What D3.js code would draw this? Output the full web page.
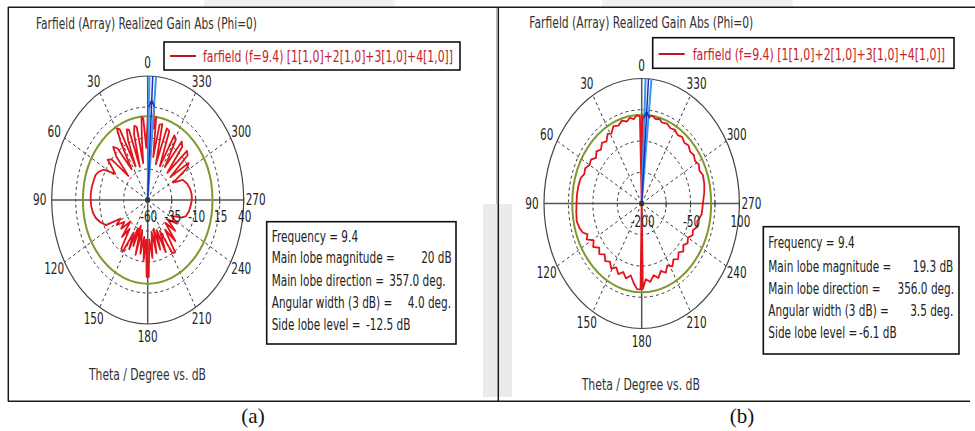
<!DOCTYPE html>
<html><head><meta charset="utf-8">
<script src="https://cdn.jsdelivr.net/npm/d3@7"></script>
<style>body{margin:0;background:#fff}svg{display:block}</style>
</head><body>
<svg id="chart" width="975" height="431"></svg>
<script>
// ---------- shared texts ----------
const angleTicks = [0, 30, 60, 90, 120, 150, 180, 210, 240, 270, 300, 330];
const spokeAngles = [30, 60, 120, 150, 210, 240, 300, 330];
const titleText = "Farfield (Array) Realized Gain Abs (Phi=0)";
const legendText = "farfield (f=9.4) [1[1,0]+2[1,0]+3[1,0]+4[1,0]]";
const axisTitle = "Theta / Degree vs. dB";
const statLabels = ["Frequency = 9.4", "Main lobe magnitude =", "Main lobe direction =", "Angular width (3 dB) =", "Side lobe level ="];

// ---------- panel (a) ----------
const aTheta = [0, 2, 4, 5.5, 7, 9, 11, 13, 15, 17, 19, 21, 23, 25, 27, 29, 31, 34, 37, 40, 43, 46, 49, 52, 55, 58,
  62, 66, 70, 75, 80, 85, 90, 95, 100, 105, 110, 115,
  118, 122, 126, 130, 134, 138, 141, 145, 148, 151, 154, 156, 158, 161, 164, 167, 170, 173, 175, 177, 179,
  181, 183, 186, 189, 192, 195, 198, 201, 204, 207, 211, 214, 217, 221, 225, 229, 233, 238, 243, 248,
  252, 258, 264, 270, 276, 282, 288, 294, 298,
  302, 305, 308, 311, 314, 317, 320, 323, 326, 329, 332, 335, 338, 341, 343.5, 346, 348.5, 350.5, 352.5, 354, 355, 357, 359, 360];
const aGain = [6, -18, 6, 7.3, -10, -30, 0, 1.5, -5, -32, 0, 1, -8, -30, 4, 6, -5, -30, -8, -4, -12, -32, -10, -7, -15, -20,
  -8, -4, -2, -1.5, -0.8, -0.5, -0.6, -1, -2, -4, -7.5, -12,
  -28, -22, -30, -24, -35, -20, -30, -12, -11, -30, -16, -35, -20, -38, -14, -35, -16, -30, -11, -28, 2,
  2, -28, -13, -34, -16, -36, -18, -34, -14, -32, -10, -9, -30, -16, -34, -22, -34, -24, -32, -22,
  -18, -16, -15, -14, -14, -15, -17, -20, -30,
  -12, -8, -30, -5, -3, -30, -4, -1, -28, -3, -1, -30, 0, 1, -30, 3, 2, -25, 7.3, -2, 17, 20, 17, 6];
const aRadialTicks = [-60, -35, -10, 15, 40];
const aRadialShown = ["-60", "-35", "-10", "15", "40"];
const aStatValues = ["20 dB", "357.0 deg.", "4.0 deg.", "-12.5 dB"];
const aMainDir = 357, aWidth = 4, aMainMag = 20, aSideLobe = -12.5;

// ---------- panel (b) ----------
const bTheta = [0, 1.5, 4, 7, 10, 13, 17, 21, 25, 29, 32, 36, 40, 44, 48, 52, 56, 60, 64, 68, 72, 78, 84, 90, 96, 102, 107, 111,
  114, 117, 121, 125, 129, 133, 137, 141, 145, 149, 153, 157, 161, 165, 169, 173, 176, 179, 180,
  181, 184, 188, 192, 196, 200, 204, 208, 212, 216, 220, 224, 228, 232, 236, 240, 244, 248, 252, 256, 262,
  270, 278, 284, 290, 294, 298, 302, 306, 310, 314, 318, 322, 326, 330, 334, 338, 342, 345, 348, 351, 353,
  354.5, 356, 357.5, 359, 360];
const bGain = [-200, 9, 12, 4, 9, 2, 8, 0, 5, -8, -3, -16, -10, -20, -13, -22, -12, -15, -7, -10, -3, -1, 0, 0, 2, 4, 0, -6,
  -18, -10, -28, -18, -32, -22, -33, -22, -30, -18, -28, -16, -26, -14, -24, -6, 6, 6, -200,
  5, -18, -10, -24, -14, -28, -18, -32, -22, -34, -26, -37, -28, -38, -30, -36, -26, -30, -20, -24, -14,
  -12, -6, -2, 0, -6, -1, -7, -2, -6, 0, -4, 2, -2, 4, 1, 7, 4, 10, 7, 13, 11,
  17, 19.3, 17, 10, -200];
const bRadialTicks = [-200, -125, -50, 25, 100];
const bRadialShown = ["-200", "", "-50", "", "100"];
const bStatValues = ["19.3 dB", "356.0 deg.", "3.5 deg.", "-6.1 dB"];
const bMainDir = 356, bWidth = 3.5, bMainMag = 19.3, bSideLobe = -6.1;

// ---------- drawing ----------
const svg = d3.select("#chart");
const FONT = "'DejaVu Sans', Verdana, sans-serif";
const SX = 0.7;

function T(g, x, y, s, o = {}) {
  const sx = o.sx || SX;
  const t = g.append("text")
    .attr("transform", `translate(${x},${y}) scale(${sx},1)`)
    .attr("text-anchor", o.anchor || "start")
    .attr("font-size", o.size || 15)
    .attr("font-family", o.family || FONT)
    .attr("fill", o.fill || "#2a2a2a")
    .text(s);
  if (o.dy) t.attr("dy", o.dy);
  if (o.len) t.attr("textLength", o.len / sx).attr("lengthAdjust", "spacingAndGlyphs");
  return t;
}

// page frame / background bits
svg.append("rect").attr("x", 204).attr("y", 0).attr("width", 191).attr("height", 7).attr("fill", "#f1f1f1");
svg.append("rect").attr("x", 602).attr("y", 0).attr("width", 191).attr("height", 7).attr("fill", "#f1f1f1");
svg.append("rect").attr("x", 483).attr("y", 204).attr("width", 29).attr("height", 193).attr("fill", "#ebebeb");
svg.append("line").attr("x1", 496.5).attr("x2", 496.5).attr("y1", 7).attr("y2", 204).attr("stroke", "#bdbdbd").attr("stroke-width", 1);
const frame = svg.append("g").attr("stroke", "#1a1a1a").attr("stroke-width", 1.5).attr("fill", "none");
frame.append("line").attr("x1", 8).attr("x2", 975).attr("y1", 7.3).attr("y2", 7.3);
frame.append("line").attr("x1", 8.3).attr("x2", 8.3).attr("y1", 7).attr("y2", 401.5);
frame.append("line").attr("x1", 8).attr("x2", 970).attr("y1", 401.2).attr("y2", 401.2);
frame.append("line").attr("x1", 498.3).attr("x2", 498.3).attr("y1", 7).attr("y2", 402);

function panel(cfg) {
  const g = svg.append("g");
  const { cx, cy, rx, ry } = cfg;
  const rScale = d3.scaleLinear().domain([cfg.ticks[0], cfg.ticks[cfg.ticks.length - 1]]).range([0, 1]).clamp(true);
  const rad = d => d * Math.PI / 180;
  const px = (th, r) => cx - rx * r * Math.sin(rad(th));
  const py = (th, r) => cy - ry * r * Math.cos(rad(th));

  // title
  T(g, cfg.title.x, cfg.title.y, titleText, { size: 15, len: cfg.title.w, fill: "#333" });

  // legend
  const L = cfg.legend;
  g.append("rect").attr("x", L.x).attr("y", L.y).attr("width", L.w).attr("height", L.h)
    .attr("fill", "#fff").attr("stroke", "#111").attr("stroke-width", 1.6);
  g.append("line").attr("x1", L.x + 6).attr("x2", L.x + 32).attr("y1", L.ly).attr("y2", L.ly)
    .attr("stroke", "#c0161c").attr("stroke-width", 2);
  T(g, L.tx, L.ty, legendText, { size: 15, len: L.tw, fill: "#c8202a" });

  // dashed rings
  const ringVals = cfg.ticks.slice(1, -1);
  ringVals.forEach(v => {
    g.append("ellipse").attr("cx", cx).attr("cy", cy).attr("rx", rx * rScale(v)).attr("ry", ry * rScale(v))
      .attr("fill", "none").attr("stroke", "#222").attr("stroke-width", 0.9).attr("stroke-dasharray", "3,3");
  });
  // dashed spokes
  spokeAngles.forEach(a => {
    g.append("line").attr("x1", cx).attr("y1", cy).attr("x2", px(a, 1)).attr("y2", py(a, 1))
      .attr("stroke", "#222").attr("stroke-width", 0.9).attr("stroke-dasharray", "3,3");
  });
  // outer ring
  g.append("ellipse").attr("cx", cx).attr("cy", cy).attr("rx", rx).attr("ry", ry)
    .attr("fill", "none").attr("stroke", "#444").attr("stroke-width", 1.2);
  // main axes
  [[0, 180], [90, 270]].forEach(([a1, a2]) => {
    g.append("line").attr("x1", px(a1, 1)).attr("y1", py(a1, 1)).attr("x2", px(a2, 1)).attr("y2", py(a2, 1))
      .attr("stroke", "#555").attr("stroke-width", 1.5);
  });
  // axis ticks on right half
  cfg.ticks.slice(1).forEach(v => {
    const x = cx + rx * rScale(v);
    g.append("line").attr("x1", x).attr("x2", x).attr("y1", cy - 3).attr("y2", cy + 4)
      .attr("stroke", "#444").attr("stroke-width", 1);
  });
  // side lobe level ring (green)
  const sll = cfg.mainMag + cfg.sideLobe;
  g.append("ellipse").attr("cx", cx).attr("cy", cy).attr("rx", rx * rScale(sll)).attr("ry", ry * rScale(sll))
    .attr("fill", "none").attr("stroke", "#7d9a2c").attr("stroke-width", 2);

  // pattern curve
  const pts = cfg.theta.map((t, i) => [t, cfg.gain[i]]);
  const line = d3.line().x(d => px(d[0], rScale(d[1]))).y(d => py(d[0], rScale(d[1])));
  g.append("path").attr("d", line(pts)).attr("fill", "none").attr("stroke", "#e2141c")
    .attr("stroke-width", 1.8).attr("stroke-linejoin", "round");

  // main lobe markers
  [cfg.mainDir - cfg.width / 2, cfg.mainDir + cfg.width / 2].forEach(a => {
    g.append("line").attr("x1", cx).attr("y1", cy).attr("x2", px(a, 1)).attr("y2", py(a, 1))
      .attr("stroke", "#3a98f0").attr("stroke-width", 2);
  });
  g.append("line").attr("x1", cx).attr("y1", cy).attr("x2", px(cfg.mainDir, 1)).attr("y2", py(cfg.mainDir, 1))
    .attr("stroke", "#1c2fb8").attr("stroke-width", 1.5);
  const mr = rScale(cfg.mainMag);
  const mxp = px(cfg.mainDir, mr), myp = py(cfg.mainDir, mr);
  g.append("path").attr("d", `M${mxp - 3},${myp + 6}L${mxp},${myp}L${mxp + 3},${myp + 6}`)
    .attr("fill", "none").attr("stroke", "#1c2fb8").attr("stroke-width", 1.5);
  g.append("circle").attr("cx", cx).attr("cy", cy).attr("r", 2.5).attr("fill", "#333");

  // angle labels
  angleTicks.forEach(a => {
    T(g, cx - (rx + 12) * Math.sin(rad(a)), cy - (ry + 13) * Math.cos(rad(a)), String(a),
      { anchor: "middle", size: 15, dy: "0.35em", fill: "#222" });
  });
  // radial labels
  cfg.ticks.forEach((v, i) => {
    const s = cfg.shown[i];
    if (!s) return;
    T(g, cx + rx * rScale(v) + 1, cy + cfg.rLabelDy, s, { anchor: "middle", size: 15, dy: "0.35em", fill: "#222" });
  });

  // axis title
  T(g, cfg.axisT.x, cfg.axisT.y, axisTitle, { size: 15, len: cfg.axisT.w, fill: "#333" });

  // stats box
  const S = cfg.stats;
  g.append("rect").attr("x", S.x).attr("y", S.y).attr("width", S.w).attr("height", S.h)
    .attr("fill", "#fff").attr("stroke", "#111").attr("stroke-width", 1.6);
  statLabels.forEach((s, i) => T(g, S.x + 5, S.base[i], s, { size: 15, fill: "#222" }));
  cfg.statValues.forEach((s, i) => {
    const p = S.vals[i];
    T(g, p.x, S.base[i + 1], s, { size: 15, anchor: p.anchor, fill: "#222" });
  });

  // panel letter
  g.append("text").attr("x", cfg.letter.x).attr("y", cfg.letter.y).attr("text-anchor", "middle")
    .attr("font-family", "'Liberation Serif', 'Times New Roman', serif").attr("font-size", 21)
    .attr("fill", "#111").text(cfg.letter.s);
}

panel({
  cx: 147.7, cy: 200, rx: 96, ry: 124,
  ticks: aRadialTicks, shown: aRadialShown, rLabelDy: 17,
  theta: aTheta, gain: aGain,
  mainDir: aMainDir, width: aWidth, mainMag: aMainMag, sideLobe: aSideLobe,
  title: { x: 36, y: 29, w: 221 },
  legend: { x: 164, y: 42, w: 296, h: 28, ly: 56, tx: 203, ty: 61.5, tw: 250 },
  axisT: { x: 89, y: 380, w: 117 },
  stats: { x: 266.7, y: 221.7, w: 189.3, h: 122.3, base: [241.7, 263.3, 286, 308, 330],
    vals: [{ x: 451.7, anchor: "end" }, { x: 445.7, anchor: "end" }, { x: 451, anchor: "end" }, { x: 366, anchor: "start" }] },
  statValues: aStatValues,
  letter: { x: 253, y: 423, s: "(a)" }
});

panel({
  cx: 641.7, cy: 203.5, rx: 97.7, ry: 125,
  ticks: bRadialTicks, shown: bRadialShown, rLabelDy: 18,
  theta: bTheta, gain: bGain,
  mainDir: bMainDir, width: bWidth, mainMag: bMainMag, sideLobe: bSideLobe,
  title: { x: 529.3, y: 28, w: 224 },
  legend: { x: 652.7, y: 37.7, w: 301.3, h: 30.6, ly: 54, tx: 692.7, ty: 59.5, tw: 252.3 },
  axisT: { x: 581.7, y: 390, w: 118.3 },
  stats: { x: 763.3, y: 226.7, w: 195.7, h: 127.3, base: [248.3, 271.7, 294, 316, 338.3],
    vals: [{ x: 953.3, anchor: "end" }, { x: 954, anchor: "end" }, { x: 953.3, anchor: "end" }, { x: 859, anchor: "start" }] },
  statValues: bStatValues,
  letter: { x: 742, y: 423, s: "(b)" }
});
</script>
</body></html>
